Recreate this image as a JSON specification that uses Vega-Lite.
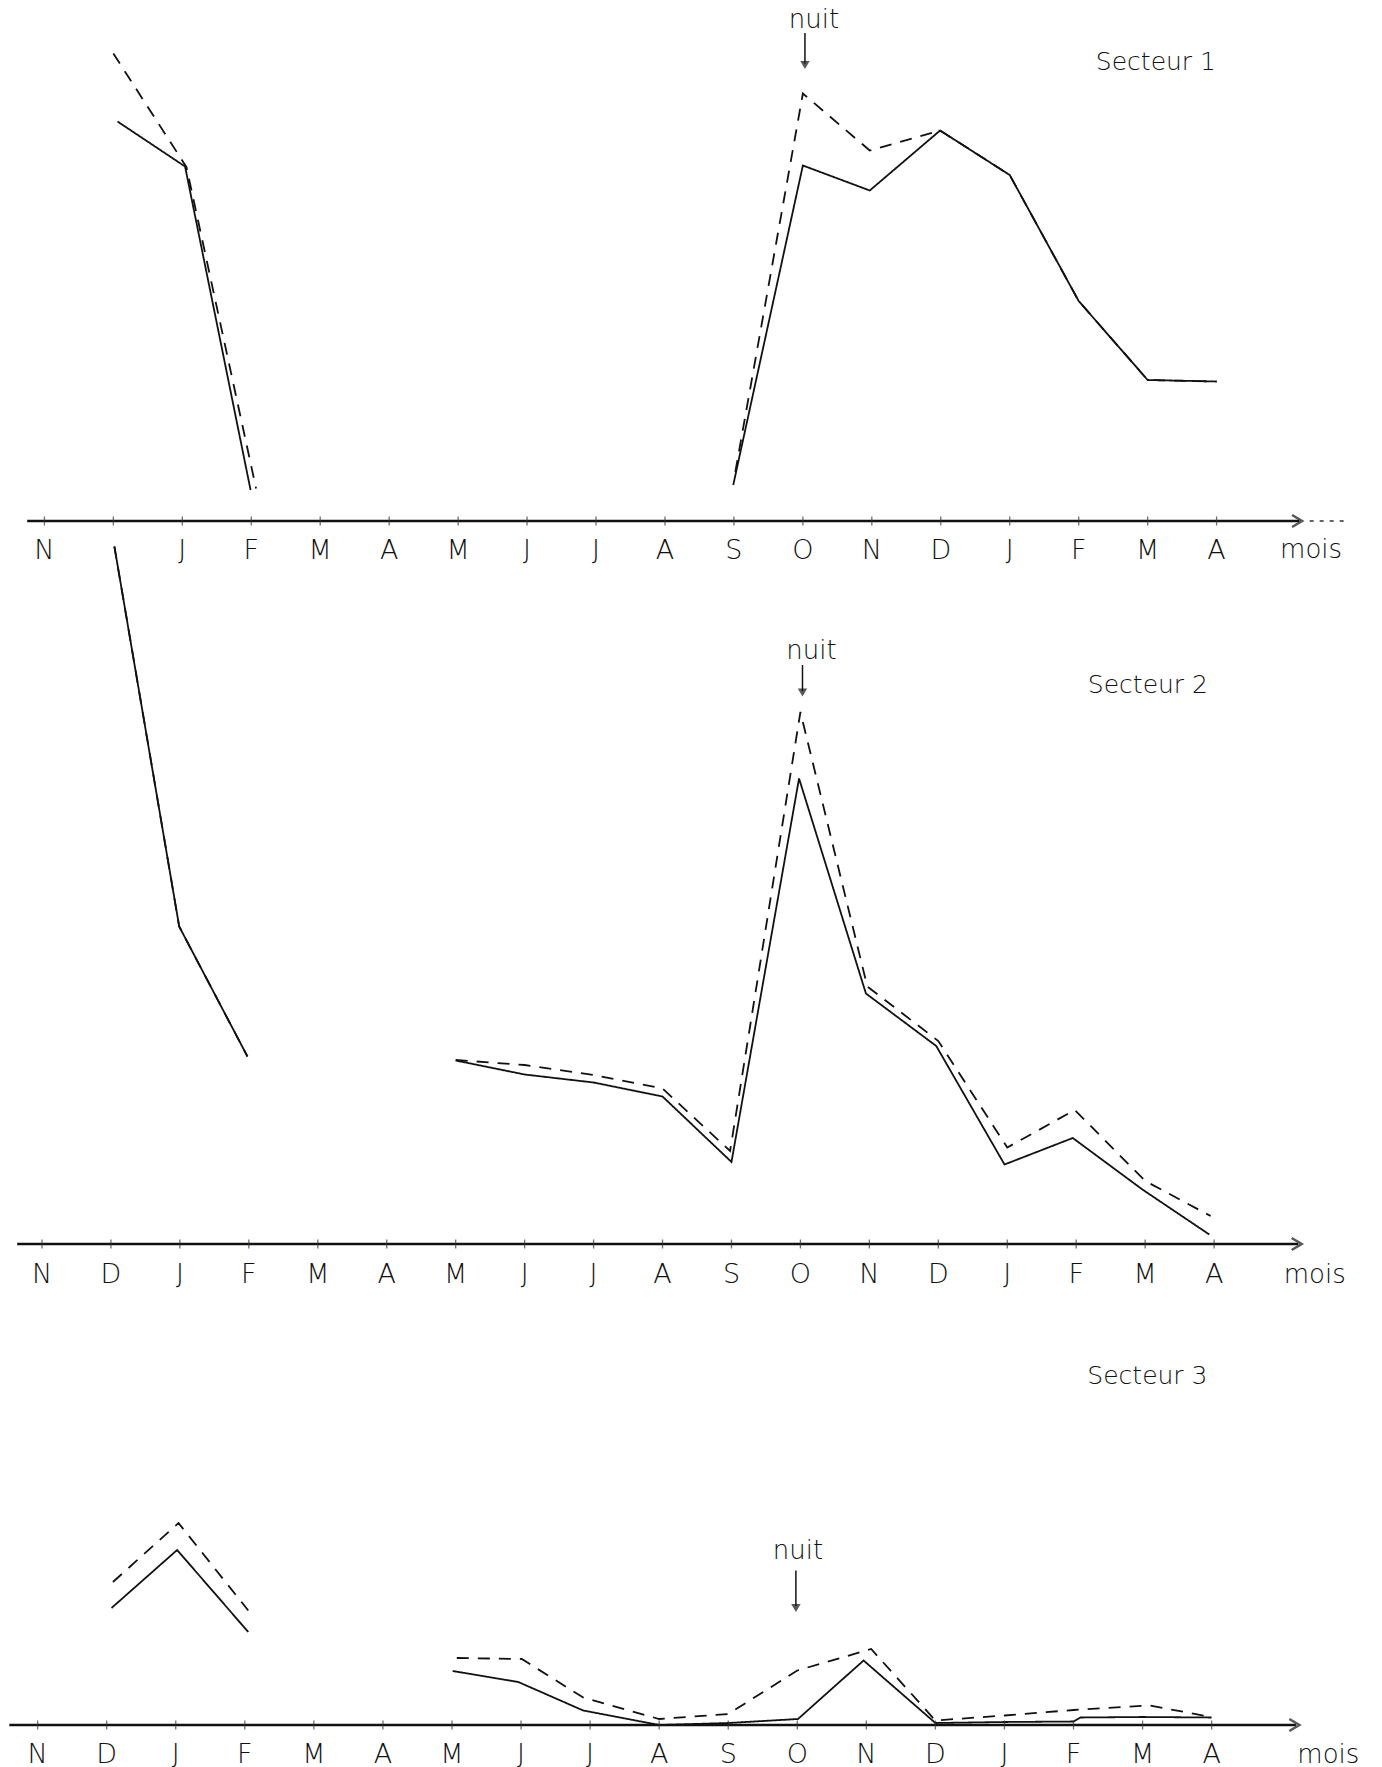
{
  "$schema": "https://vega.github.io/schema/vega-lite/v6.json",
  "padding": 0,
  "background": "white",
  "config": {"view": {"stroke": null}, "text": {"font": "DejaVu Sans", "fontWeight": 200, "color": "#111"}},
  "spacing": 24,
  "bounds": "flush",
  "datasets": {
    "courbes": [
      {"p":1,"serie":"solide","seg":"a","m":1.06,"v":79.9},
      {"p":1,"serie":"solide","seg":"a","m":2.04,"v":70.9},
      {"p":1,"serie":"solide","seg":"a","m":2.99,"v":6.2},
      {"p":1,"serie":"tirets","seg":"a","m":1.0,"v":93.5},
      {"p":1,"serie":"tirets","seg":"a","m":2.06,"v":70.8},
      {"p":1,"serie":"tirets","seg":"a","m":3.07,"v":6.5},
      {"p":1,"serie":"solide","seg":"b","m":9.99,"v":7.2},
      {"p":1,"serie":"solide","seg":"b","m":11.0,"v":71.1},
      {"p":1,"serie":"solide","seg":"b","m":11.97,"v":66.1},
      {"p":1,"serie":"solide","seg":"b","m":12.99,"v":78.1},
      {"p":1,"serie":"solide","seg":"b","m":14.0,"v":69.2},
      {"p":1,"serie":"solide","seg":"b","m":15.0,"v":44.0},
      {"p":1,"serie":"solide","seg":"b","m":16.0,"v":28.2},
      {"p":1,"serie":"solide","seg":"b","m":17.0,"v":27.9},
      {"p":1,"serie":"tirets","seg":"b","m":10.02,"v":9.8},
      {"p":1,"serie":"tirets","seg":"b","m":11.0,"v":85.5},
      {"p":1,"serie":"tirets","seg":"b","m":11.97,"v":74.1},
      {"p":1,"serie":"tirets","seg":"b","m":12.99,"v":78.1},
      {"p":1,"serie":"tirets","seg":"b","m":14.0,"v":69.2},
      {"p":1,"serie":"tirets","seg":"b","m":15.0,"v":44.0},
      {"p":1,"serie":"tirets","seg":"b","m":16.0,"v":28.2},
      {"p":1,"serie":"tirets","seg":"b","m":17.0,"v":27.9},

      {"p":2,"serie":"solide","seg":"a","m":1.05,"v":139.5},
      {"p":2,"serie":"solide","seg":"a","m":1.99,"v":63.5},
      {"p":2,"serie":"solide","seg":"a","m":2.98,"v":37.5},
      {"p":2,"serie":"tirets","seg":"a","m":1.05,"v":139.5},
      {"p":2,"serie":"tirets","seg":"a","m":1.99,"v":63.5},
      {"p":2,"serie":"tirets","seg":"a","m":2.98,"v":37.5},
      {"p":2,"serie":"solide","seg":"b","m":6.0,"v":36.7},
      {"p":2,"serie":"solide","seg":"b","m":7.0,"v":33.9},
      {"p":2,"serie":"solide","seg":"b","m":8.0,"v":32.3},
      {"p":2,"serie":"solide","seg":"b","m":9.0,"v":29.5},
      {"p":2,"serie":"solide","seg":"b","m":10.0,"v":16.4},
      {"p":2,"serie":"solide","seg":"b","m":10.98,"v":93.1},
      {"p":2,"serie":"solide","seg":"b","m":11.95,"v":50.1},
      {"p":2,"serie":"solide","seg":"b","m":12.97,"v":39.6},
      {"p":2,"serie":"solide","seg":"b","m":13.96,"v":15.9},
      {"p":2,"serie":"solide","seg":"b","m":14.95,"v":21.2},
      {"p":2,"serie":"solide","seg":"b","m":15.96,"v":10.9},
      {"p":2,"serie":"solide","seg":"b","m":16.93,"v":1.9},
      {"p":2,"serie":"tirets","seg":"b","m":6.0,"v":36.8},
      {"p":2,"serie":"tirets","seg":"b","m":7.0,"v":35.8},
      {"p":2,"serie":"tirets","seg":"b","m":8.0,"v":33.8},
      {"p":2,"serie":"tirets","seg":"b","m":9.0,"v":31.1},
      {"p":2,"serie":"tirets","seg":"b","m":9.98,"v":18.6},
      {"p":2,"serie":"tirets","seg":"b","m":11.0,"v":106.4},
      {"p":2,"serie":"tirets","seg":"b","m":11.97,"v":51.5},
      {"p":2,"serie":"tirets","seg":"b","m":13.0,"v":40.6},
      {"p":2,"serie":"tirets","seg":"b","m":14.0,"v":19.3},
      {"p":2,"serie":"tirets","seg":"b","m":14.98,"v":26.8},
      {"p":2,"serie":"tirets","seg":"b","m":16.0,"v":12.6},
      {"p":2,"serie":"tirets","seg":"b","m":16.95,"v":5.6},

      {"p":3,"serie":"solide","seg":"a","m":1.07,"v":23.4},
      {"p":3,"serie":"solide","seg":"a","m":2.02,"v":35.0},
      {"p":3,"serie":"solide","seg":"a","m":3.05,"v":18.6},
      {"p":3,"serie":"tirets","seg":"a","m":1.09,"v":28.6},
      {"p":3,"serie":"tirets","seg":"a","m":2.04,"v":40.4},
      {"p":3,"serie":"tirets","seg":"a","m":3.05,"v":22.9},
      {"p":3,"serie":"solide","seg":"b","m":6.01,"v":10.8},
      {"p":3,"serie":"solide","seg":"b","m":6.96,"v":8.6},
      {"p":3,"serie":"solide","seg":"b","m":7.9,"v":2.9},
      {"p":3,"serie":"solide","seg":"b","m":9.0,"v":0.0},
      {"p":3,"serie":"solide","seg":"b","m":10.0,"v":0.4},
      {"p":3,"serie":"solide","seg":"b","m":11.01,"v":1.2},
      {"p":3,"serie":"solide","seg":"b","m":11.96,"v":12.9},
      {"p":3,"serie":"solide","seg":"b","m":13.0,"v":0.4},
      {"p":3,"serie":"solide","seg":"b","m":14.0,"v":0.6},
      {"p":3,"serie":"solide","seg":"b","m":15.0,"v":0.7},
      {"p":3,"serie":"solide","seg":"b","m":15.1,"v":1.5},
      {"p":3,"serie":"solide","seg":"b","m":16.0,"v":1.6},
      {"p":3,"serie":"solide","seg":"b","m":17.0,"v":1.5},
      {"p":3,"serie":"tirets","seg":"b","m":6.07,"v":13.4},
      {"p":3,"serie":"tirets","seg":"b","m":7.01,"v":13.2},
      {"p":3,"serie":"tirets","seg":"b","m":7.9,"v":5.5},
      {"p":3,"serie":"tirets","seg":"b","m":9.0,"v":1.2},
      {"p":3,"serie":"tirets","seg":"b","m":10.0,"v":2.2},
      {"p":3,"serie":"tirets","seg":"b","m":11.0,"v":10.9},
      {"p":3,"serie":"tirets","seg":"b","m":12.07,"v":15.2},
      {"p":3,"serie":"tirets","seg":"b","m":13.0,"v":0.9},
      {"p":3,"serie":"tirets","seg":"b","m":14.0,"v":1.9},
      {"p":3,"serie":"tirets","seg":"b","m":15.0,"v":3.0},
      {"p":3,"serie":"tirets","seg":"b","m":16.1,"v":3.9},
      {"p":3,"serie":"tirets","seg":"b","m":17.0,"v":1.6}
    ],
    "mois": [
      {"p":1,"m":0,"lab":"N"},{"p":1,"m":1,"lab":""},{"p":1,"m":2,"lab":"J"},{"p":1,"m":3,"lab":"F"},{"p":1,"m":4,"lab":"M"},{"p":1,"m":5,"lab":"A"},
      {"p":1,"m":6,"lab":"M"},{"p":1,"m":7,"lab":"J"},{"p":1,"m":8,"lab":"J"},{"p":1,"m":9,"lab":"A"},{"p":1,"m":10,"lab":"S"},{"p":1,"m":11,"lab":"O"},
      {"p":1,"m":12,"lab":"N"},{"p":1,"m":13,"lab":"D"},{"p":1,"m":14,"lab":"J"},{"p":1,"m":15,"lab":"F"},{"p":1,"m":16,"lab":"M"},{"p":1,"m":17,"lab":"A"},
      {"p":2,"m":0,"lab":"N"},{"p":2,"m":1,"lab":"D"},{"p":2,"m":2,"lab":"J"},{"p":2,"m":3,"lab":"F"},{"p":2,"m":4,"lab":"M"},{"p":2,"m":5,"lab":"A"},
      {"p":2,"m":6,"lab":"M"},{"p":2,"m":7,"lab":"J"},{"p":2,"m":8,"lab":"J"},{"p":2,"m":9,"lab":"A"},{"p":2,"m":10,"lab":"S"},{"p":2,"m":11,"lab":"O"},
      {"p":2,"m":12,"lab":"N"},{"p":2,"m":13,"lab":"D"},{"p":2,"m":14,"lab":"J"},{"p":2,"m":15,"lab":"F"},{"p":2,"m":16,"lab":"M"},{"p":2,"m":17,"lab":"A"},
      {"p":3,"m":0,"lab":"N"},{"p":3,"m":1,"lab":"D"},{"p":3,"m":2,"lab":"J"},{"p":3,"m":3,"lab":"F"},{"p":3,"m":4,"lab":"M"},{"p":3,"m":5,"lab":"A"},
      {"p":3,"m":6,"lab":"M"},{"p":3,"m":7,"lab":"J"},{"p":3,"m":8,"lab":"J"},{"p":3,"m":9,"lab":"A"},{"p":3,"m":10,"lab":"S"},{"p":3,"m":11,"lab":"O"},
      {"p":3,"m":12,"lab":"N"},{"p":3,"m":13,"lab":"D"},{"p":3,"m":14,"lab":"J"},{"p":3,"m":15,"lab":"F"},{"p":3,"m":16,"lab":"M"},{"p":3,"m":17,"lab":"A"}
    ]
  },
  "data": {"name": "courbes"},
  "vconcat": [
    {
      "width": 1382, "height": 521,
      "layer": [
        {
          "transform": [{"filter": "datum.p == 1"}],
          "mark": {"type": "line", "strokeWidth": 1.8, "color": "#111"},
          "encoding": {
            "x": {"field": "m", "type": "quantitative", "scale": {"domain": [-0.644, 19.399], "nice": false, "zero": false}, "axis": null},
            "y": {"field": "v", "type": "quantitative", "scale": {"domain": [0, 104.2], "nice": false, "zero": true}, "axis": null},
            "detail": {"field": "seg"},
            "strokeDash": {"field": "serie", "scale": {"domain": ["solide", "tirets"], "range": [[1, 0], [12, 9]]}, "legend": null}
          }
        },
        {
          "data": {"values": [{}]},
          "mark": {"type": "rule", "strokeWidth": 2.5, "color": "#111"},
          "encoding": {"x": {"datum": -0.25, "type": "quantitative", "axis": null}, "x2": {"datum": 18.2},
                       "y": {"datum": 0, "type": "quantitative", "axis": null}}
        },
        {
          "data": {"name": "mois"},
          "transform": [{"filter": "datum.p == 1"}],
          "mark": {"type": "tick", "orient": "vertical", "size": 9, "thickness": 1.3, "color": "#333"},
          "encoding": {"x": {"field": "m", "type": "quantitative", "axis": null}, "y": {"datum": 0, "type": "quantitative", "axis": null}}
        },
        {
          "data": {"name": "mois"},
          "transform": [{"filter": "datum.p == 1"}],
          "mark": {"type": "text", "fontSize": 27, "dy": 30},
          "encoding": {"x": {"field": "m", "type": "quantitative", "axis": null}, "y": {"datum": 0, "type": "quantitative", "axis": null},
                       "text": {"field": "lab"}}
        },
        {
          "data": {"values": [{}]},
          "mark": {"type": "rule", "strokeWidth": 1.5, "color": "#333", "strokeDash": [4, 6]},
          "encoding": {"x": {"datum": 18.35, "type": "quantitative", "axis": null}, "x2": {"datum": 18.85},
                       "y": {"datum": 0, "type": "quantitative", "axis": null}}
        },
        {
          "data": {"values": [{}]},
          "mark": {"type": "point", "shape": "M -1 -0.6 L 0 0 L -1 0.6", "filled": false, "strokeWidth": 2.5, "size": 400, "color": "#111"},
          "encoding": {"x": {"datum": 18.24, "type": "quantitative", "axis": null}, "y": {"datum": 0, "type": "quantitative", "axis": null}}
        },
        {
          "data": {"values": [{}]},
          "mark": {"type": "text", "text": "Secteur 1", "fontSize": 25},
          "encoding": {"x": {"datum": 16.12, "type": "quantitative", "axis": null}, "y": {"datum": 91.8, "type": "quantitative", "axis": null}}
        },
        {
          "data": {"values": [{}]},
          "mark": {"type": "text", "text": "nuit", "fontSize": 26},
          "encoding": {"x": {"datum": 11.16, "type": "quantitative", "axis": null}, "y": {"datum": 100.2, "type": "quantitative", "axis": null}}
        },
        {
          "data": {"values": [{}]},
          "mark": {"type": "rule", "strokeWidth": 1.5, "color": "#111"},
          "encoding": {"x": {"datum": 11.03, "type": "quantitative", "axis": null},
                       "y": {"datum": 97.6, "type": "quantitative", "axis": null}, "y2": {"datum": 91.5}}
        },
        {
          "data": {"values": [{}]},
          "mark": {"type": "point", "shape": "triangle-down", "filled": true, "size": 90, "color": "#111"},
          "encoding": {"x": {"datum": 11.03, "type": "quantitative", "axis": null}, "y": {"datum": 91.2, "type": "quantitative", "axis": null}}
        },
        {
          "data": {"values": [{}]},
          "mark": {"type": "text", "text": "mois", "fontSize": 26},
          "encoding": {"x": {"datum": 18.37, "type": "quantitative", "axis": null}, "y": {"datum": -5.8, "type": "quantitative", "axis": null}}
        }
      ]
    },
    {
      "width": 1382, "height": 699,
      "layer": [
        {
          "transform": [{"filter": "datum.p == 2"}],
          "mark": {"type": "line", "strokeWidth": 1.8, "color": "#111"},
          "encoding": {
            "x": {"field": "m", "type": "quantitative", "scale": {"domain": [-0.609, 19.435], "nice": false, "zero": false}, "axis": null},
            "y": {"field": "v", "type": "quantitative", "scale": {"domain": [0, 139.8], "nice": false, "zero": true}, "axis": null},
            "detail": {"field": "seg"},
            "strokeDash": {"field": "serie", "scale": {"domain": ["solide", "tirets"], "range": [[1, 0], [12, 9]]}, "legend": null}
          }
        },
        {
          "data": {"values": [{}]},
          "mark": {"type": "rule", "strokeWidth": 2.5, "color": "#111"},
          "encoding": {"x": {"datum": -0.36, "type": "quantitative", "axis": null}, "x2": {"datum": 18.22},
                       "y": {"datum": 0, "type": "quantitative", "axis": null}}
        },
        {
          "data": {"name": "mois"},
          "transform": [{"filter": "datum.p == 2"}],
          "mark": {"type": "tick", "orient": "vertical", "size": 9, "thickness": 1.3, "color": "#333"},
          "encoding": {"x": {"field": "m", "type": "quantitative", "axis": null}, "y": {"datum": 0, "type": "quantitative", "axis": null}}
        },
        {
          "data": {"name": "mois"},
          "transform": [{"filter": "datum.p == 2"}],
          "mark": {"type": "text", "fontSize": 27, "dy": 31},
          "encoding": {"x": {"field": "m", "type": "quantitative", "axis": null}, "y": {"datum": 0, "type": "quantitative", "axis": null},
                       "text": {"field": "lab"}}
        },
        {
          "data": {"values": [{}]},
          "mark": {"type": "point", "shape": "M -1 -0.6 L 0 0 L -1 0.6", "filled": false, "strokeWidth": 2.5, "size": 400, "color": "#111"},
          "encoding": {"x": {"datum": 18.27, "type": "quantitative", "axis": null}, "y": {"datum": 0, "type": "quantitative", "axis": null}}
        },
        {
          "data": {"values": [{}]},
          "mark": {"type": "text", "text": "Secteur 2", "fontSize": 25},
          "encoding": {"x": {"datum": 16.04, "type": "quantitative", "axis": null}, "y": {"datum": 111.8, "type": "quantitative", "axis": null}}
        },
        {
          "data": {"values": [{}]},
          "mark": {"type": "text", "text": "nuit", "fontSize": 26},
          "encoding": {"x": {"datum": 11.16, "type": "quantitative", "axis": null}, "y": {"datum": 118.7, "type": "quantitative", "axis": null}}
        },
        {
          "data": {"values": [{}]},
          "mark": {"type": "rule", "strokeWidth": 1.5, "color": "#111"},
          "encoding": {"x": {"datum": 11.03, "type": "quantitative", "axis": null},
                       "y": {"datum": 115.8, "type": "quantitative", "axis": null}, "y2": {"datum": 110.6}}
        },
        {
          "data": {"values": [{}]},
          "mark": {"type": "point", "shape": "triangle-down", "filled": true, "size": 90, "color": "#111"},
          "encoding": {"x": {"datum": 11.03, "type": "quantitative", "axis": null}, "y": {"datum": 110.3, "type": "quantitative", "axis": null}}
        },
        {
          "data": {"values": [{}]},
          "mark": {"type": "text", "text": "mois", "fontSize": 26},
          "encoding": {"x": {"datum": 18.46, "type": "quantitative", "axis": null}, "y": {"datum": -6.2, "type": "quantitative", "axis": null}}
        }
      ]
    },
    {
      "width": 1382, "height": 457,
      "layer": [
        {
          "transform": [{"filter": "datum.p == 3"}],
          "mark": {"type": "line", "strokeWidth": 1.8, "color": "#111"},
          "encoding": {
            "x": {"field": "m", "type": "quantitative", "scale": {"domain": [-0.545, 19.467], "nice": false, "zero": false}, "axis": null},
            "y": {"field": "v", "type": "quantitative", "scale": {"domain": [0, 91.4], "nice": false, "zero": true}, "axis": null},
            "detail": {"field": "seg"},
            "strokeDash": {"field": "serie", "scale": {"domain": ["solide", "tirets"], "range": [[1, 0], [10, 9]]}, "legend": null}
          }
        },
        {
          "data": {"values": [{}]},
          "mark": {"type": "rule", "strokeWidth": 2.5, "color": "#111"},
          "encoding": {"x": {"datum": -0.41, "type": "quantitative", "axis": null}, "x2": {"datum": 18.22},
                       "y": {"datum": 0, "type": "quantitative", "axis": null}}
        },
        {
          "data": {"name": "mois"},
          "transform": [{"filter": "datum.p == 3"}],
          "mark": {"type": "tick", "orient": "vertical", "size": 9, "thickness": 1.3, "color": "#333"},
          "encoding": {"x": {"field": "m", "type": "quantitative", "axis": null}, "y": {"datum": 0, "type": "quantitative", "axis": null}}
        },
        {
          "data": {"name": "mois"},
          "transform": [{"filter": "datum.p == 3"}],
          "mark": {"type": "text", "fontSize": 27, "dy": 30},
          "encoding": {"x": {"field": "m", "type": "quantitative", "axis": null}, "y": {"datum": 0, "type": "quantitative", "axis": null},
                       "text": {"field": "lab"}}
        },
        {
          "data": {"values": [{}]},
          "mark": {"type": "point", "shape": "M -1 -0.6 L 0 0 L -1 0.6", "filled": false, "strokeWidth": 2.5, "size": 400, "color": "#111"},
          "encoding": {"x": {"datum": 18.27, "type": "quantitative", "axis": null}, "y": {"datum": 0, "type": "quantitative", "axis": null}}
        },
        {
          "data": {"values": [{}]},
          "mark": {"type": "text", "text": "Secteur 3", "fontSize": 25},
          "encoding": {"x": {"datum": 16.07, "type": "quantitative", "axis": null}, "y": {"datum": 69.9, "type": "quantitative", "axis": null}}
        },
        {
          "data": {"values": [{}]},
          "mark": {"type": "text", "text": "nuit", "fontSize": 26},
          "encoding": {"x": {"datum": 11.01, "type": "quantitative", "axis": null}, "y": {"datum": 34.9, "type": "quantitative", "axis": null}}
        },
        {
          "data": {"values": [{}]},
          "mark": {"type": "rule", "strokeWidth": 1.5, "color": "#111"},
          "encoding": {"x": {"datum": 10.98, "type": "quantitative", "axis": null},
                       "y": {"datum": 30.9, "type": "quantitative", "axis": null}, "y2": {"datum": 23.8}}
        },
        {
          "data": {"values": [{}]},
          "mark": {"type": "point", "shape": "triangle-down", "filled": true, "size": 90, "color": "#111"},
          "encoding": {"x": {"datum": 10.98, "type": "quantitative", "axis": null}, "y": {"datum": 23.4, "type": "quantitative", "axis": null}}
        },
        {
          "data": {"values": [{}]},
          "mark": {"type": "text", "text": "mois", "fontSize": 26},
          "encoding": {"x": {"datum": 18.69, "type": "quantitative", "axis": null}, "y": {"datum": -5.9, "type": "quantitative", "axis": null}}
        }
      ]
    }
  ]
}
